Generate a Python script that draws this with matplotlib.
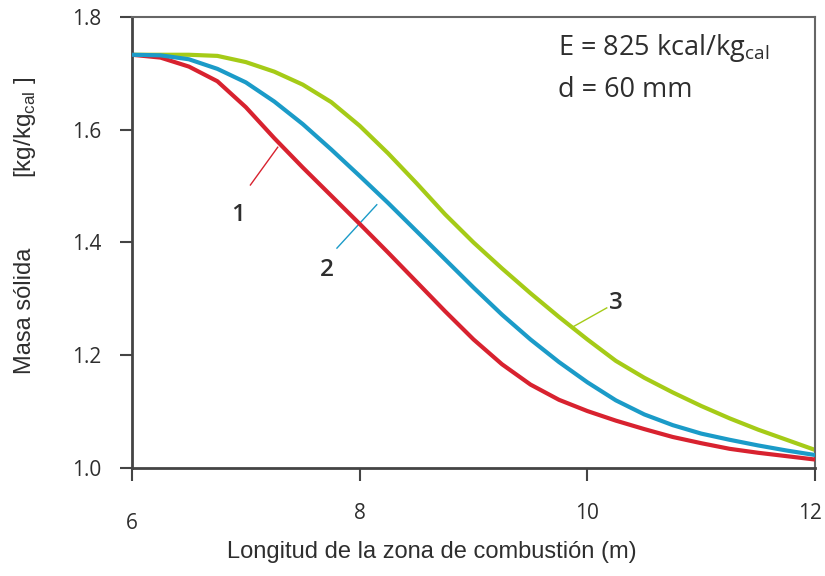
import matplotlib
matplotlib.use("Agg")
import matplotlib.pyplot as plt
import matplotlib.transforms as mtransforms

# Data
x_grid = [6.0, 6.25, 6.5, 6.75, 7.0, 7.25, 7.5, 7.75, 8.0, 8.25, 8.5, 8.75, 9.0,
          9.25, 9.5, 9.75, 10.0, 10.25, 10.5, 10.75, 11.0, 11.25, 11.5, 11.75, 12.0]

y1 = [1.733, 1.728, 1.712, 1.686, 1.640, 1.585, 1.533, 1.483, 1.433, 1.382, 1.330, 1.278, 1.228,
      1.184, 1.148, 1.121, 1.101, 1.084, 1.069, 1.055, 1.044, 1.034, 1.027, 1.021, 1.015]

y2 = [1.733, 1.732, 1.725, 1.708, 1.684, 1.650, 1.610, 1.565, 1.518, 1.470, 1.420, 1.370, 1.320,
      1.272, 1.228, 1.188, 1.152, 1.120, 1.095, 1.076, 1.061, 1.050, 1.040, 1.031, 1.023]

y3 = [1.733, 1.733, 1.733, 1.731, 1.720, 1.703, 1.680, 1.649, 1.607, 1.558, 1.505, 1.450, 1.400,
      1.354, 1.310, 1.268, 1.228, 1.190, 1.160, 1.134, 1.110, 1.088, 1.068, 1.050, 1.032]

xticks = [6, 8, 10, 12]
xtick_labels = ["6", "8", "10", "12"]
yticks = [1.0, 1.2, 1.4, 1.6, 1.8]
ytick_labels = ["1.0", "1.2", "1.4", "1.6", "1.8"]

c_red = "#d8222f"
c_blue = "#1b9bc8"
c_green = "#a5cb17"
c_text = "#2e2e2e"

fig = plt.figure(figsize=(8.25, 5.76), dpi=100)
ax = fig.add_axes([0.16, 0.1875, 0.828, 0.783])

ax.plot(x_grid, y1, color=c_red, lw=3.0, solid_capstyle="butt", zorder=3)
ax.plot(x_grid, y2, color=c_blue, lw=3.0, solid_capstyle="butt", zorder=3)
ax.plot(x_grid, y3, color=c_green, lw=3.0, solid_capstyle="butt", zorder=2)

ax.set_xlim(6, 12)
ax.set_ylim(1.0, 1.8)
ax.set_xticks(xticks)
ax.set_xticklabels(xtick_labels)
ax.set_yticks(yticks)
ax.set_yticklabels(ytick_labels)

ax.tick_params(axis="both", labelsize=15, labelcolor=c_text)
ax.tick_params(axis="y", direction="out", length=9, width=1.5, pad=13, color="#444444")
ax.tick_params(axis="x", direction="out", length=9, width=1.5, pad=16, color="#444444")
for lab in ax.get_xticklabels() + ax.get_yticklabels():
    lab.set_fontfamily("Open Sans")

# first x tick label sits a little lower in the reference; last one hugs the edge
xlabs = ax.get_xticklabels()
xlabs[0].set_transform(xlabs[0].get_transform() + mtransforms.ScaledTranslation(0, -10 / 100, fig.dpi_scale_trans))
xlabs[-1].set_transform(xlabs[-1].get_transform() + mtransforms.ScaledTranslation(-5 / 100, 0, fig.dpi_scale_trans))

for side in ["left", "bottom"]:
    ax.spines[side].set_linewidth(2.0)
    ax.spines[side].set_color("#444444")
for side in ["top", "right"]:
    ax.spines[side].set_linewidth(1.5)
    ax.spines[side].set_color("#666666")

# leader lines and curve numbers (data coordinates)
lab_kw = dict(fontsize=17.5, fontweight="semibold", color=c_text, family="Open Sans",
              ha="center", va="center")
ax.plot([7.04, 7.28], [1.502, 1.569], color=c_red, lw=1.0)
ax.text(6.93, 1.449, "1", **lab_kw)
ax.plot([7.80, 8.15], [1.390, 1.467], color=c_blue, lw=1.0)
ax.text(7.71, 1.351, "2", **lab_kw)
ax.plot([9.87, 10.17], [1.250, 1.284], color=c_green, lw=1.0)
ax.text(10.25, 1.293, "3", **lab_kw)

# info text
ax.text(9.74, 1.745, r"E = 825 kcal/kg$_{\mathregular{cal}}$", fontsize=19.5, color=c_text,
        family="Open Sans", ha="left", va="center")
ax.text(9.74, 1.670, "d = 60 mm", fontsize=19.5, color=c_text,
        family="Open Sans", ha="left", va="center")

fig.text(0.524, 0.042, "Longitud de la zona de combustión (m)", fontsize=17, color=c_text,
         family="Liberation Sans", ha="center", va="center")
fig.text(0.030, 0.46, "Masa sólida", rotation=90, fontsize=17, color=c_text,
         family="Liberation Sans", ha="center", va="center")
fig.text(0.030, 0.778, r"[kg/kg$_{\mathregular{cal}}$ ]", rotation=90, fontsize=17.5, color=c_text,
         family="Liberation Sans", ha="center", va="center")

fig.savefig("out.png", dpi=100)
